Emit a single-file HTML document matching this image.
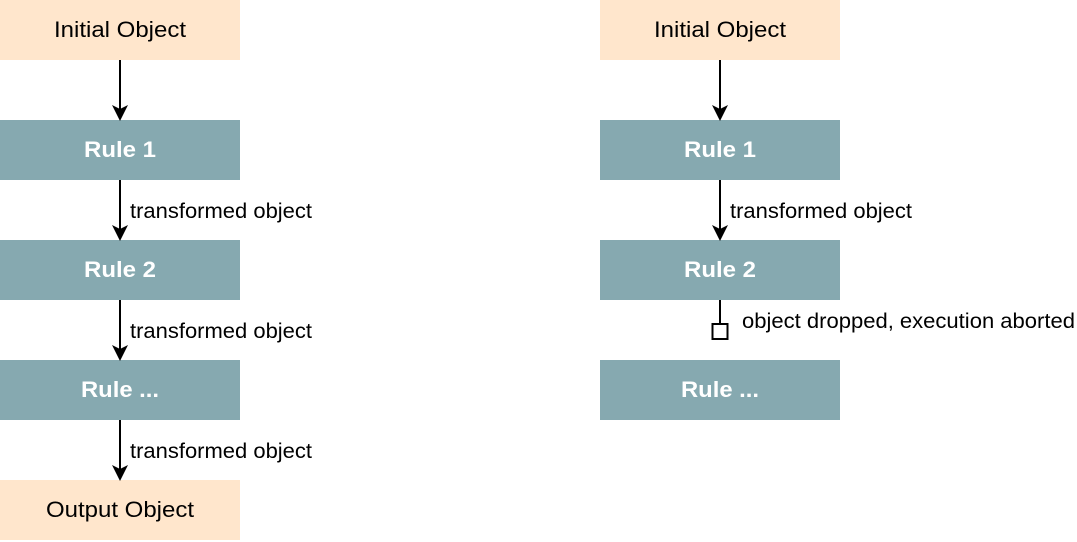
<!DOCTYPE html>
<html><head><style>body{margin:0;background:#fff}svg{display:block}</style></head><body>
<svg width="1077" height="542" xmlns="http://www.w3.org/2000/svg" font-family="Liberation Sans, sans-serif">
<defs><marker id="a" markerWidth="20" markerHeight="20" refX="14" refY="8" orient="auto" markerUnits="userSpaceOnUse"><path d="M0,0 L16,8 L0,16 L4,8 Z" fill="#000"/></marker></defs>
<g font-size="22" text-anchor="middle" lengthAdjust="spacingAndGlyphs">
<rect x="0" y="0" width="240" height="60" fill="#FFE6CC"/><text x="120" y="37" textLength="132" lengthAdjust="spacingAndGlyphs">Initial Object</text>
<rect x="0" y="120" width="240" height="60" fill="#86A9B0"/><text x="120" y="157" fill="#fff" font-weight="bold" textLength="72" lengthAdjust="spacingAndGlyphs">Rule 1</text>
<rect x="0" y="240" width="240" height="60" fill="#86A9B0"/><text x="120" y="277" fill="#fff" font-weight="bold" textLength="72" lengthAdjust="spacingAndGlyphs">Rule 2</text>
<rect x="0" y="360" width="240" height="60" fill="#86A9B0"/><text x="120" y="397" fill="#fff" font-weight="bold" textLength="78" lengthAdjust="spacingAndGlyphs">Rule ...</text>
<rect x="0" y="480" width="240" height="60" fill="#FFE6CC"/><text x="120" y="517" textLength="148" lengthAdjust="spacingAndGlyphs">Output Object</text>
<rect x="600" y="0" width="240" height="60" fill="#FFE6CC"/><text x="720" y="37" textLength="132" lengthAdjust="spacingAndGlyphs">Initial Object</text>
<rect x="600" y="120" width="240" height="60" fill="#86A9B0"/><text x="720" y="157" fill="#fff" font-weight="bold" textLength="72" lengthAdjust="spacingAndGlyphs">Rule 1</text>
<rect x="600" y="240" width="240" height="60" fill="#86A9B0"/><text x="720" y="277" fill="#fff" font-weight="bold" textLength="72" lengthAdjust="spacingAndGlyphs">Rule 2</text>
<rect x="600" y="360" width="240" height="60" fill="#86A9B0"/><text x="720" y="397" fill="#fff" font-weight="bold" textLength="78" lengthAdjust="spacingAndGlyphs">Rule ...</text>
</g>
<g stroke="#000" stroke-width="2" fill="none">
<line x1="120" y1="60" x2="120" y2="119" marker-end="url(#a)"/>
<line x1="120" y1="180" x2="120" y2="239" marker-end="url(#a)"/>
<line x1="120" y1="300" x2="120" y2="359" marker-end="url(#a)"/>
<line x1="120" y1="420" x2="120" y2="479" marker-end="url(#a)"/>
<line x1="720" y1="60" x2="720" y2="119" marker-end="url(#a)"/>
<line x1="720" y1="180" x2="720" y2="239" marker-end="url(#a)"/>
<line x1="720" y1="300" x2="720" y2="324"/>
<rect x="712.5" y="324" width="15" height="15"/>
</g>
<g font-size="21">
<text x="130" y="218" textLength="182" lengthAdjust="spacingAndGlyphs">transformed object</text>
<text x="130" y="338" textLength="182" lengthAdjust="spacingAndGlyphs">transformed object</text>
<text x="130" y="458" textLength="182" lengthAdjust="spacingAndGlyphs">transformed object</text>
<text x="730" y="218" textLength="182" lengthAdjust="spacingAndGlyphs">transformed object</text>
<text x="742" y="328" textLength="333" lengthAdjust="spacingAndGlyphs">object dropped, execution aborted</text>
</g>
</svg>
</body></html>
